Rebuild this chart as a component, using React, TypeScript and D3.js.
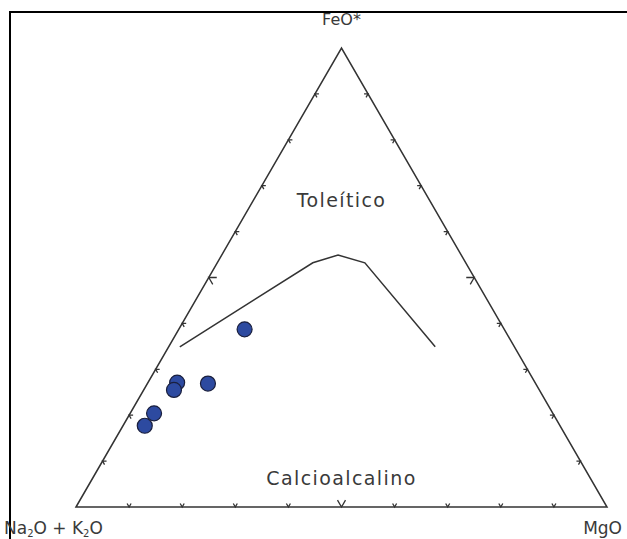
import React, { useEffect, useRef } from 'react';
import * as d3 from 'd3';

// ternary values in percent: [Na2O+K2O, FeO*, MgO]
const samples: number[][] = [
  [48.9, 38.7, 12.4],
  [61.7, 26.9, 11.4],
  [67.4, 27.1, 5.5],
  [68.8, 25.5, 5.7],
  [75.1, 20.4, 4.5],
  [78.2, 17.7, 4.1],
];

// Irvine & Baragar boundary
const boundary: number[][] = [
  [63.0, 34.9, 2.1],
  [28.8, 53.2, 18.0],
  [23.2, 54.9, 21.9],
  [19.0, 53.2, 27.8],
  [14.9, 34.9, 50.2],
];

const tickValues = [0.1, 0.2, 0.3, 0.4, 0.5, 0.6, 0.7, 0.8, 0.9];
const fieldLabels = [
  { text: 'Toleítico', a: 17.3, f: 65.4 },
  { text: 'Calcioalcalino', a: 47.6, f: 4.8 },
];

const App = () => {
  const ref = useRef<SVGSVGElement>(null);

  useEffect(() => {
    const width = 627;
    const height = 539;
    const svg = d3.select(ref.current);
    svg.selectAll('*').remove();

    const x = d3.scaleLinear().domain([0, 1]).range([76, 607]);
    const y = d3.scaleLinear().domain([0, 1]).range([507, 48]);

    // a, f, m in any unit, normalised here
    const proj = (a: number, f: number, m: number): [number, number] => {
      const s = a + f + m;
      const ff = f / s;
      const mm = m / s;
      return [x(mm + ff / 2), y(ff)];
    };

    // frame
    svg.append('rect')
      .attr('x', 10).attr('y', 12)
      .attr('width', width + 50).attr('height', height + 50)
      .attr('fill', 'white')
      .attr('stroke', '#000')
      .attr('stroke-width', 2);

    const A = proj(1, 0, 0);
    const F = proj(0, 1, 0);
    const M = proj(0, 0, 1);

    svg.append('path')
      .attr('d', d3.line()([A, F, M, A]) + 'Z')
      .attr('fill', 'none')
      .attr('stroke', '#333')
      .attr('stroke-width', 1.5);

    // tick chevrons along gridline directions
    const ticks = svg.append('g').attr('stroke', '#333').attr('stroke-width', 1.3).attr('fill', 'none');
    const addTick = (p: [number, number], d1: [number, number], d2: [number, number], len: number) => {
      ticks.append('path').attr('d', d3.line()([
        [p[0] + d1[0] * len, p[1] + d1[1] * len],
        p,
        [p[0] + d2[0] * len, p[1] + d2[1] * len],
      ]));
    };
    const c = Math.cos(Math.PI / 3);
    const s = Math.sin(Math.PI / 3);
    tickValues.forEach(t => {
      const len = t === 0.5 ? 8 : 4;
      addTick(proj(1 - t, 0, t), [c, -s], [-c, -s], len);
      addTick(proj(1 - t, t, 0), [1, 0], [c, s], len);
      addTick(proj(0, t, 1 - t), [-1, 0], [-c, s], len);
    });

    // boundary line
    svg.append('path')
      .attr('d', d3.line()(boundary.map(d => proj(d[0], d[1], d[2]))))
      .attr('fill', 'none')
      .attr('stroke', '#333')
      .attr('stroke-width', 1.5);

    // samples
    svg.selectAll('circle.sample')
      .data(samples)
      .enter()
      .append('circle')
      .attr('class', 'sample')
      .attr('cx', d => proj(d[0], d[1], d[2])[0])
      .attr('cy', d => proj(d[0], d[1], d[2])[1])
      .attr('r', 7.5)
      .attr('fill', '#2D4AA0')
      .attr('stroke', '#1A1F3D')
      .attr('stroke-width', 1.2);

    const font = '"DejaVu Sans", sans-serif';
    const ink = '#3a3a3a';

    svg.selectAll('text.field')
      .data(fieldLabels)
      .enter()
      .append('text')
      .attr('class', 'field')
      .attr('x', d => proj(d.a, d.f, 100 - d.a - d.f)[0])
      .attr('y', d => proj(d.a, d.f, 100 - d.a - d.f)[1])
      .attr('text-anchor', 'middle')
      .attr('font-family', font)
      .attr('font-size', 19)
      .attr('letter-spacing', 1.4)
      .attr('fill', ink)
      .text(d => d.text);

    svg.append('text')
      .attr('x', F[0]).attr('y', 25)
      .attr('text-anchor', 'middle')
      .attr('font-family', font)
      .attr('font-size', 16)
      .attr('fill', ink)
      .text('FeO*');

    const naLabel = svg.append('text')
      .attr('x', 4).attr('y', 534)
      .attr('font-family', font)
      .attr('font-size', 17)
      .attr('fill', ink);
    naLabel.append('tspan').text('Na');
    naLabel.append('tspan').attr('font-size', 10).attr('dy', 3).text('2');
    naLabel.append('tspan').attr('dy', -3).text('O + K');
    naLabel.append('tspan').attr('font-size', 10).attr('dy', 3).text('2');
    naLabel.append('tspan').attr('dy', -3).text('O');

    svg.append('text')
      .attr('x', 622).attr('y', 534)
      .attr('text-anchor', 'end')
      .attr('font-family', font)
      .attr('font-size', 17)
      .attr('fill', ink)
      .text('MgO');
  }, []);

  return (
    <svg
      ref={ref}
      width={627}
      height={539}
      style={{ position: 'absolute', left: 0, top: 0, background: 'white' }}
    />
  );
};

export default App;
